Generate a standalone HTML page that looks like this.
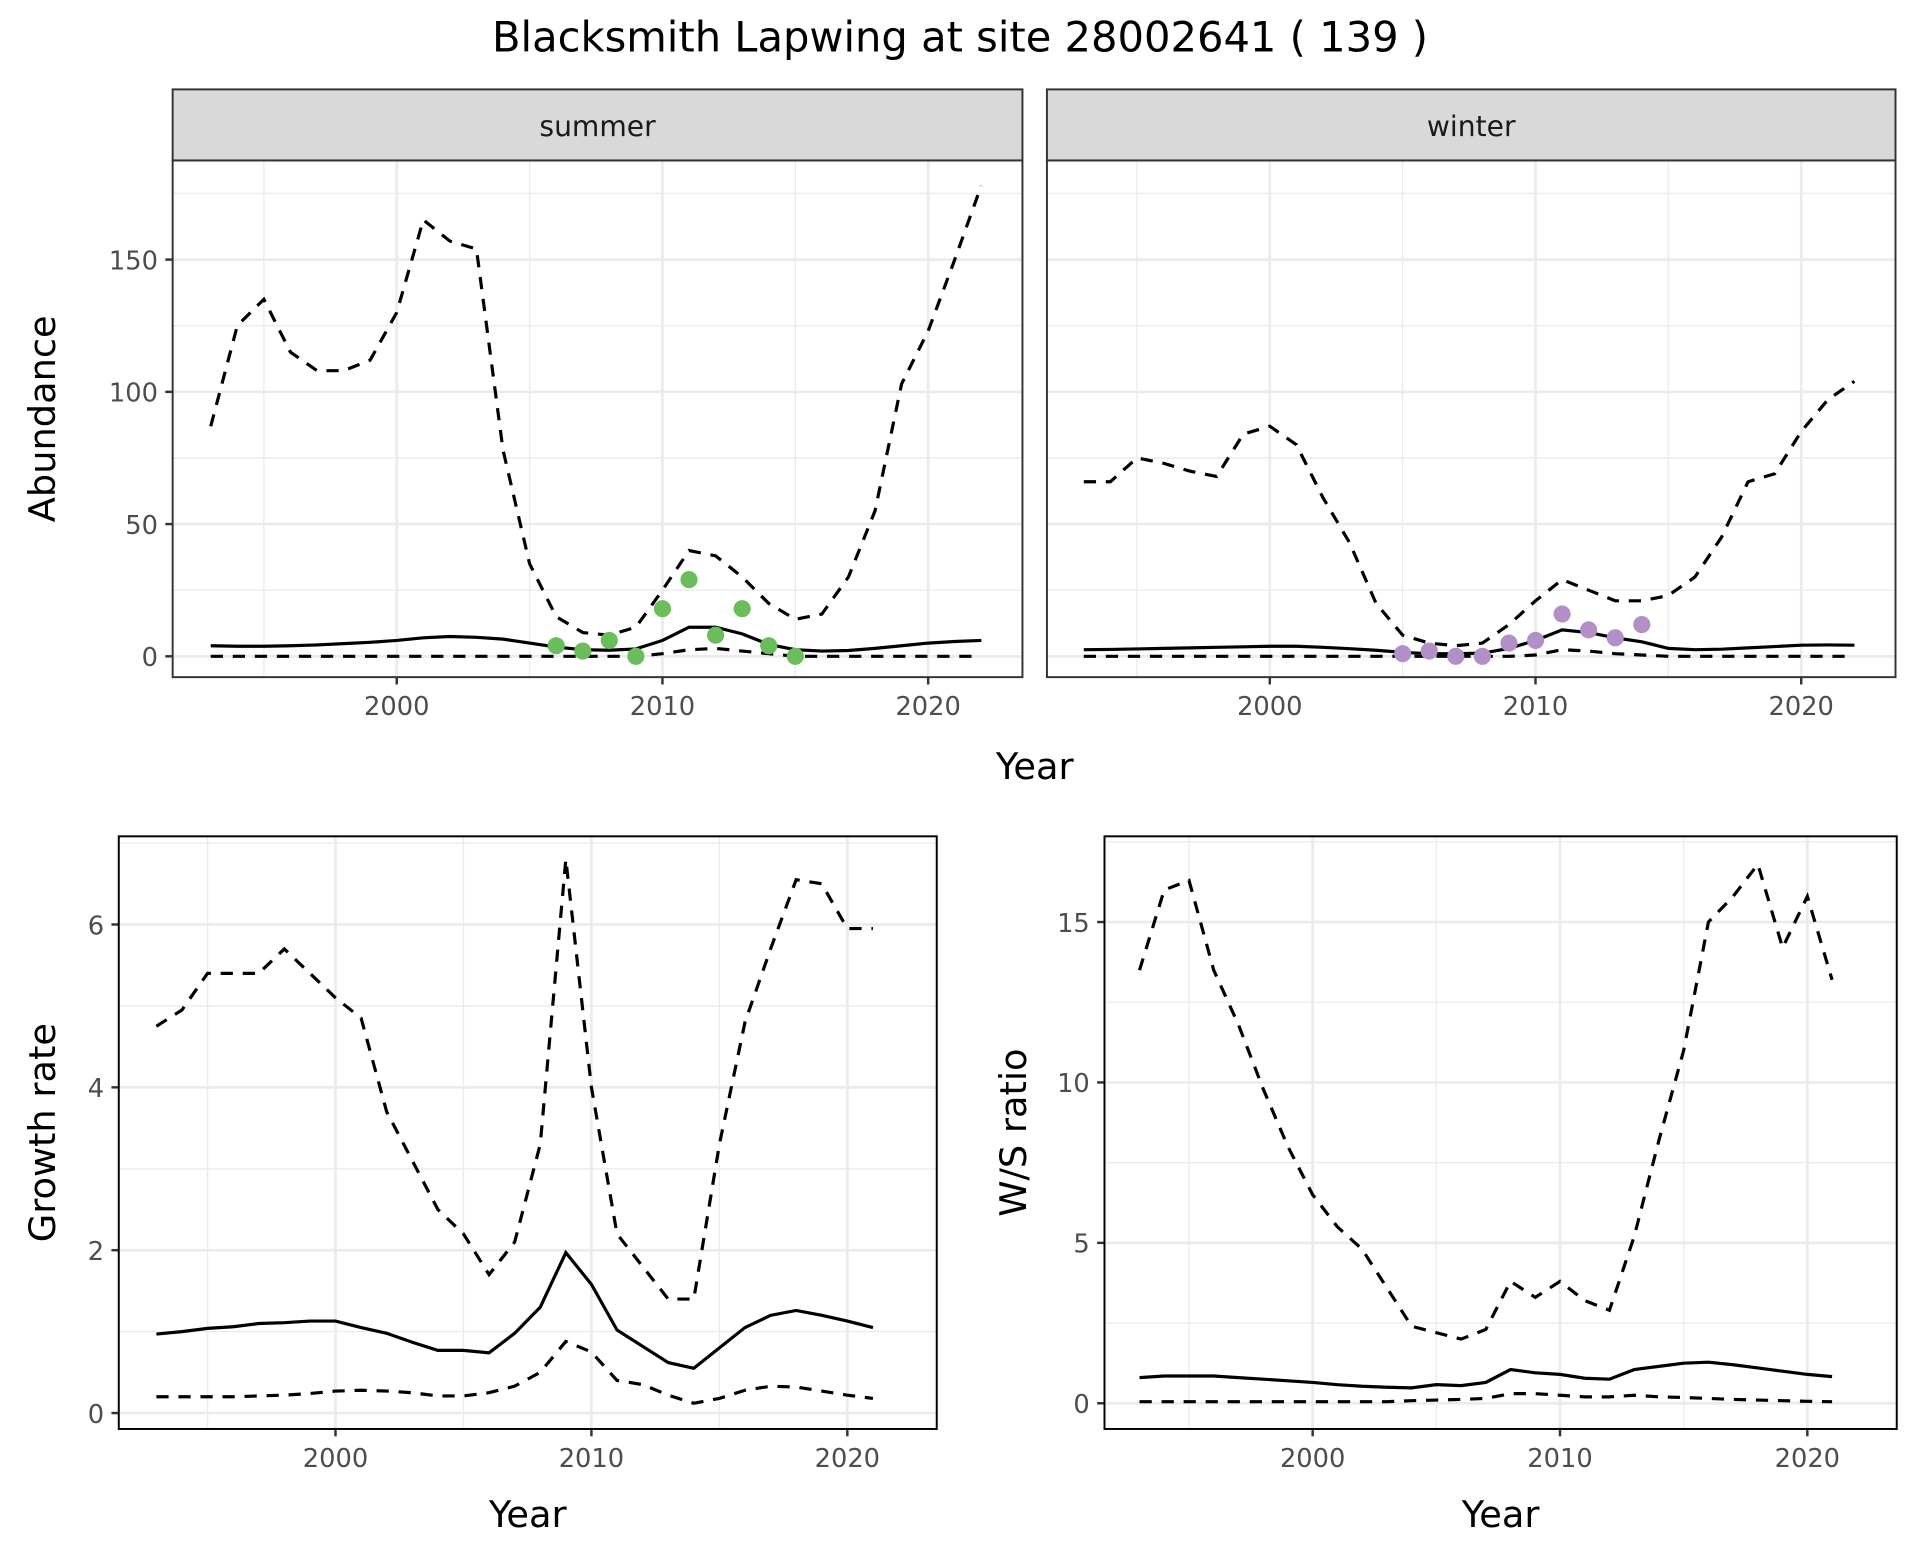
<!DOCTYPE html>
<html><head><meta charset="utf-8"><style>
body{margin:0;background:#fff}
svg{display:block;font-family:"DejaVu Sans","Liberation Sans",sans-serif}
</style></head><body>
<svg id="chart" width="1920" height="1560" viewBox="0 0 1568 1274" preserveAspectRatio="none" xmlns="http://www.w3.org/2000/svg">
<rect width="1568" height="1274" fill="#fff"/>
<text x="784" y="42" font-size="34" text-anchor="middle">Blacksmith Lapwing at site 28002641 ( 139 )</text>
</svg>
<script>
const yearsAbund = [1993,1994,1995,1996,1997,1998,1999,2000,2001,2002,2003,2004,2005,2006,2007,2008,2009,2010,2011,2012,2013,2014,2015,2016,2017,2018,2019,2020,2021,2022];
const summerUpper = [87,125,135,115,108,108,112,130,165,157,154,78,35,15,9,8,11,25,40,38,30,20,14,16,30,55,103,123,150,178];
const summerMean = [4,3.8,3.8,4,4.3,4.8,5.3,6,7,7.5,7.2,6.5,5,3.5,2.5,2.3,2.8,6,11,11,8.5,4.5,2.5,2,2.2,3,4,5,5.6,6];
const summerLower = [0,0,0,0,0,0,0,0,0,0,0,0,0,0,0,0,0,1,2.5,3,2,1,0,0,0,0,0,0,0,0];
const summerObsYears = [2006,2007,2008,2009,2010,2011,2012,2013,2014,2015];
const summerObs = [4,2,6,0,18,29,8,18,4,0];
const winterUpper = [66,66,75,73,70,68,84,87,80,60,43,20,8,5,4,5,12,21,29,25,21,21,23,30,45,66,69,85,97,104];
const winterMean = [2.5,2.6,2.8,3,3.2,3.4,3.6,3.8,3.8,3.4,2.9,2.3,1.5,1,1,1.2,3,6,10,9,7,5.5,3,2.5,2.7,3.2,3.7,4.2,4.3,4.2];
const winterLower = [0,0,0,0,0,0,0,0,0,0,0,0,0,0,0,0,0,0.5,2.5,2,1,0.5,0,0,0,0,0,0,0,0];
const winterObsYears = [2005,2006,2007,2008,2009,2010,2011,2012,2013,2014];
const winterObs = [1,2,0,0,5,6,16,10,7,12];
const yearsRate = [1993,1994,1995,1996,1997,1998,1999,2000,2001,2002,2003,2004,2005,2006,2007,2008,2009,2010,2011,2012,2013,2014,2015,2016,2017,2018,2019,2020,2021];
const growthUpper = [4.75,4.95,5.4,5.4,5.4,5.7,5.4,5.1,4.85,3.7,3.1,2.5,2.2,1.7,2.1,3.3,6.8,4.0,2.2,1.8,1.4,1.4,3.3,4.8,5.7,6.55,6.5,5.95,5.95];
const growthMean = [0.97,1.0,1.04,1.06,1.1,1.11,1.13,1.13,1.05,0.98,0.87,0.77,0.77,0.74,0.98,1.3,1.97,1.58,1.02,0.82,0.62,0.55,0.8,1.05,1.2,1.26,1.2,1.13,1.05];
const growthLower = [0.2,0.2,0.2,0.2,0.21,0.22,0.24,0.27,0.28,0.27,0.25,0.21,0.21,0.25,0.33,0.5,0.88,0.75,0.4,0.35,0.22,0.12,0.18,0.28,0.33,0.32,0.27,0.22,0.18];
const wsUpper = [13.5,16,16.3,13.5,11.8,9.8,8,6.5,5.5,4.8,3.6,2.4,2.2,2.0,2.3,3.8,3.3,3.8,3.2,2.9,5.2,8.2,11,15,15.8,16.8,14.2,15.8,13.2];
const wsMean = [0.8,0.85,0.85,0.85,0.8,0.75,0.7,0.65,0.58,0.53,0.5,0.48,0.58,0.55,0.65,1.05,0.95,0.9,0.78,0.75,1.05,1.15,1.25,1.28,1.2,1.1,1.0,0.9,0.83];
const wsLower = [0.05,0.05,0.05,0.05,0.05,0.05,0.05,0.05,0.05,0.05,0.05,0.08,0.1,0.12,0.15,0.3,0.3,0.25,0.2,0.2,0.25,0.2,0.18,0.15,0.12,0.1,0.08,0.06,0.05];
const xTicks = [2000,2010,2020];
const abundTicks = [0,50,100,150];
const growthTicks = [0,2,4,6];
const wsTicks = [0,5,10,15];

const svg = document.getElementById('chart');
const NS = 'http://www.w3.org/2000/svg';
function mk(tag, attrs, parent){const e=document.createElementNS(NS,tag);for(const k in attrs)e.setAttribute(k,attrs[k]);(parent||svg).appendChild(e);return e;}

function panel(o){
  const g = mk('g',{});
  
  
  const sx = v => o.xp[0] + (v - 2000)/10*(o.xp[1]-o.xp[0]);
  const st = o.ticks[1]-o.ticks[0];
  const sy = v => o.yp[0] - v/st*(o.yp[0]-o.yp[1]);
  for(const t of [1995,2005,2015]){mk('line',{x1:sx(t),x2:sx(t),y1:o.y0,y2:o.y1,stroke:'#ebebeb','stroke-width':1.1},g);}
  for(let i=0;i<o.ticks.length+1;i++){const v=o.ticks[0]+st*(i+0.5);const y=sy(v);if(y>o.y0&&y<o.y1)mk('line',{x1:o.x0,x2:o.x1,y1:y,y2:y,stroke:'#ebebeb','stroke-width':1.1},g);}
  for(const t of xTicks){mk('line',{x1:sx(t),x2:sx(t),y1:o.y0,y2:o.y1,stroke:'#ebebeb','stroke-width':2.2},g);
    const tl=mk('text',{x:sx(t),y:o.y1+31,'font-size':21,fill:'#4d4d4d','text-anchor':'middle'},g);tl.textContent=t;
    
    
    mk('line',{x1:sx(t),x2:sx(t),y1:o.y1,y2:o.y1+6,stroke:'#333','stroke-width':2},g);}
  for(const t of o.ticks){const y=sy(t);mk('line',{x1:o.x0,x2:o.x1,y1:y,y2:y,stroke:'#ebebeb','stroke-width':2.2},g);
    if(o.ylab){const tl=mk('text',{x:o.x0-12,y:y+8,'font-size':21,fill:'#4d4d4d','text-anchor':'end'},g);tl.textContent=t;
    
    
    mk('line',{x1:o.x0-6,x2:o.x0,y1:y,y2:y,stroke:'#333','stroke-width':2},g);}}
  const line=(ys,dash,nm)=>{const p=mk('polyline',{points:o.years.map((yr,i)=>sx(yr)+','+sy(ys[i])).join(' '),fill:'none',stroke:'#000','stroke-width':2.6,'stroke-dasharray':dash?'10 8':'none'},g);
    
    };
  line(o.upper,true,'upper-bound-line');line(o.mean,false,'mean-line');line(o.lower,true,'lower-bound-line');
  if(o.obs){o.obsYears.forEach((yr,i)=>{const c=mk('circle',{cx:sx(yr),cy:sy(o.obs[i]),r:7,fill:o.color},g);
    
    });}
  mk('rect',{x:o.x0,y:o.y0,width:o.x1-o.x0,height:o.y1-o.y0,fill:'none',stroke:o.strip?'#333':'#000','stroke-width':1.6},g);
  if(o.strip){const s=mk('rect',{x:o.x0,y:o.y0-58,width:o.x1-o.x0,height:58,fill:'#d9d9d9',stroke:'#333','stroke-width':1.6},g);
    
    
    const t2=mk('text',{x:(o.x0+o.x1)/2,y:o.y0-20,'font-size':23,fill:'#1a1a1a','text-anchor':'middle'},g);t2.textContent=o.strip;
    
    }
  if(o.ytitle){const t=mk('text',{transform:`translate(${o.ytx},${(o.y0+o.y1)/2}) rotate(-90)`,'font-size':30,'text-anchor':'middle'},g);t.textContent=o.ytitle;
    
    }
  if(o.xtitle){const t=mk('text',{x:(o.x0+o.x1)/2,y:o.y1+80,'font-size':30,'text-anchor':'middle'},g);t.textContent='Year';
    
    }
}
panel({name:'summer-panel',x0:141,x1:835,y0:131,y1:553,xp:[324,541],yp:[536,428],strip:'summer',ylab:true,ytitle:'Abundance',ytx:45,
  ticks:abundTicks,years:yearsAbund,upper:summerUpper,mean:summerMean,lower:summerLower,obs:summerObs,obsYears:summerObsYears,color:'#6bbd5b'});
panel({name:'winter-panel',x0:855,x1:1548,y0:131,y1:553,xp:[1037,1254],yp:[536,428],strip:'winter',ylab:false,
  ticks:abundTicks,years:yearsAbund,upper:winterUpper,mean:winterMean,lower:winterLower,obs:winterObs,obsYears:winterObsYears,color:'#b28fc7'});
panel({name:'growth-rate-panel',x0:97,x1:765,y0:683,y1:1167,xp:[274,483],yp:[1154,1021],ylab:true,ytitle:'Growth rate',ytx:45,xtitle:true,
  ticks:growthTicks,years:yearsRate,upper:growthUpper,mean:growthMean,lower:growthLower});
panel({name:'ws-ratio-panel',x0:902,x1:1549,y0:683,y1:1167,xp:[1072,1274],yp:[1146,1015],ylab:true,ytitle:'W/S ratio',ytx:838,xtitle:true,
  ticks:wsTicks,years:yearsRate,upper:wsUpper,mean:wsMean,lower:wsLower});
const yt=mk('text',{x:845,y:636,'font-size':30,'text-anchor':'middle'});yt.textContent='Year';


</script>
</body></html>
